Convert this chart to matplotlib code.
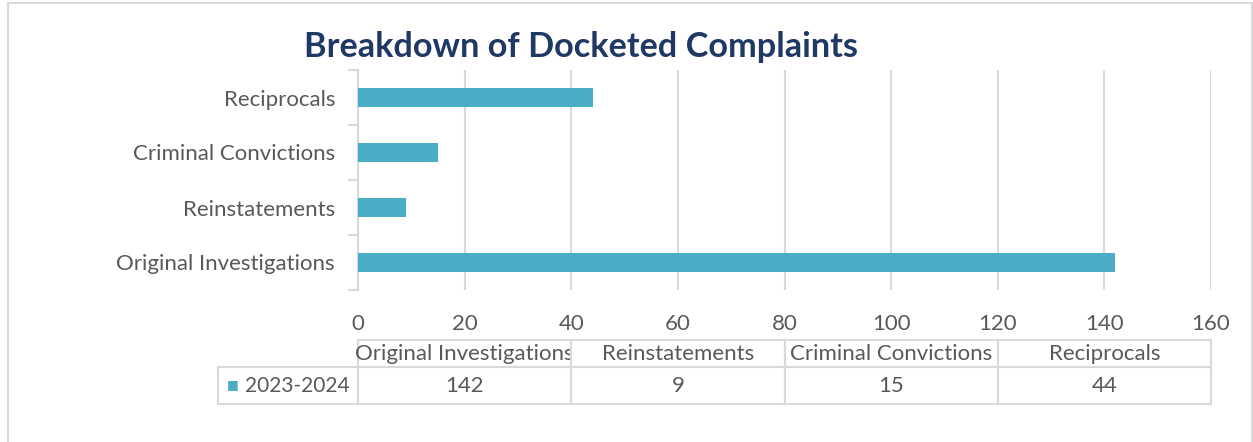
import numpy as np
import matplotlib.pyplot as plt
from matplotlib.patches import Rectangle

categories = ['Original Investigations', 'Reinstatements', 'Criminal Convictions', 'Reciprocals']
values = [142, 9, 15, 44]
series_name = '2023-2024'
xticks = [0, 20, 40, 60, 80, 100, 120, 140, 160]

bar_color = '#4BACC6'
grid_color = '#D9D9D9'
text_color = '#595959'
title_color = '#1F3864'

plt.rcParams['font.family'] = ['Lato', 'DejaVu Sans']

fig = plt.figure(figsize=(12.53, 4.42), dpi=100)
fig.patches.append(Rectangle((8 / 1253, -0.01), 1 - 8 / 1253 - 0.001, 1 - 3 / 442 + 0.01,
                             transform=fig.transFigure, fill=False,
                             edgecolor=grid_color, linewidth=1.5))

ax = fig.add_axes([358 / 1253, 1 - 290 / 442, 853 / 1253, 220 / 442])
ypos = np.arange(len(categories))
ax.barh(ypos, values, height=0.33, color=bar_color, zorder=3)

ax.set_xlim(0, 160)
ax.set_ylim(-0.5, len(categories) - 0.5)
ax.set_xticks(xticks)
ax.set_yticks(ypos)
ax.set_yticklabels(categories)
ax.set_yticks(np.arange(-0.5, len(categories)), minor=True)
ax.tick_params(axis='y', which='major', length=0, pad=16.5, labelsize=16, labelcolor=text_color)
ax.tick_params(axis='y', which='minor', length=7, color=grid_color, width=1.5)
ax.tick_params(axis='x', length=0, pad=17, labelsize=16, labelcolor=text_color)
ax.grid(axis='x', color=grid_color, linewidth=1.5, zorder=0)
for s in ['top', 'right', 'bottom']:
    ax.spines[s].set_visible(False)
ax.spines['left'].set_color(grid_color)
ax.spines['left'].set_linewidth(1.5)

fig.text(581 / 1253, 1 - 47 / 442, 'Breakdown of Docketed Complaints', ha='center', va='center',
         fontsize=24.7, fontweight='bold', color=title_color)

# data table under the chart (bbox covers the grid, row label cell added to the left)
rl_w = 140 / 853
tbl = ax.table(cellText=[[str(v) for v in values]], colLabels=categories,
               colWidths=[0.25] * 4, cellLoc='center',
               bbox=[0, -(404 - 290) / 220, 1, 64 / 220])
tbl.add_cell(1, -1, width=rl_w, height=37, text=series_name, loc='right')
tbl.auto_set_font_size(False)
for (r, c), cell in tbl.get_celld().items():
    cell.set_edgecolor(grid_color)
    cell.set_linewidth(1.5)
    cell.get_text().set_color(text_color)
    cell.get_text().set_fontsize(16)
    cell.set_height(27 if r == 0 else 37)
    if c == -1:
        cell.PAD = 0.06
        cell.get_text().set_fontsize(15)
    else:
        cell.set_width(0.25)
        cell.PAD = 0.0
ax.text(-(358 - 233) / 853, -(385 - 290) / 220, '■', transform=ax.transAxes,
        ha='center', va='center', color=bar_color, fontsize=9, family='DejaVu Sans')

fig.savefig('out.png', dpi=100)
